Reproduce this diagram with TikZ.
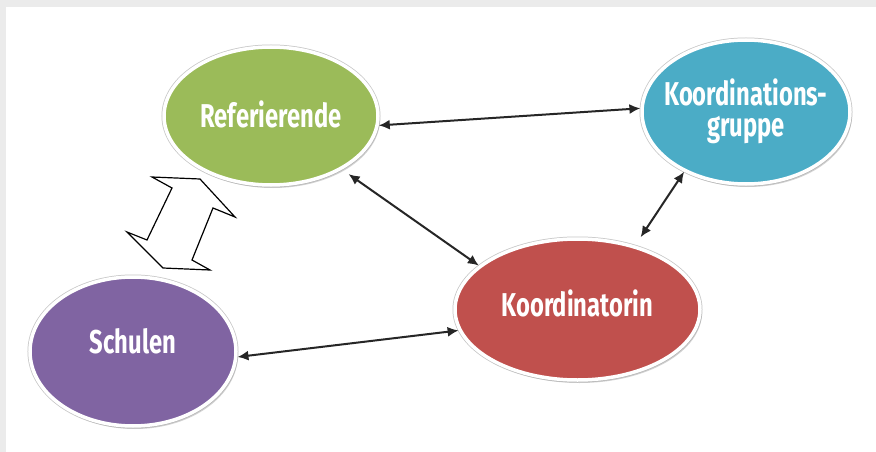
\documentclass[tikz,border=0pt]{standalone}
\usepackage{fontspec}
\newfontfamily\cond{Fira Sans}[FakeStretch=0.72]
\usetikzlibrary{shapes.geometric,arrows.meta,shadows}
\definecolor{bggray}{HTML}{EBEBEB}
\definecolor{cgreen}{HTML}{9BBB59}
\definecolor{cblue}{HTML}{4BACC6}
\definecolor{cpurple}{HTML}{8064A2}
\definecolor{cred}{HTML}{C0504D}
\tikzset{
  bubble/.style={ellipse, draw=white, line width=3.5pt, inner sep=0pt,
    preaction={draw=gray!45, line width=5pt},
    drop shadow={shadow xshift=2pt, shadow yshift=-3pt, fill=gray!70, opacity=0.5}},
  lbl/.style={text=white, font=\cond\bfseries\fontsize{33}{31}\selectfont, align=center, inner sep=0pt},
  conn/.style={line width=2pt, draw=black!85, {Latex[length=11pt,width=10pt]}-{Latex[length=11pt,width=10pt]}},
  twoway/.style={fill=white, draw=black, line width=1.2pt, line join=miter}
}
\begin{document}
\begin{tikzpicture}[x=1pt,y=-1pt]
\useasboundingbox (0,0) rectangle (876,452);
\fill[bggray] (0,0) rectangle (876,452);
\fill[white] (6,7) rectangle (876,452);
% hollow double arrow
\draw[twoway] (152,177) -- (200,179) -- (235,217) -- (213,208) -- (192,260) -- (210,270)
  -- (163,268) -- (127,232) -- (147,240) -- (172,188) -- cycle;
% bubbles
\node[bubble, fill=cgreen, minimum width=214pt, minimum height=138pt,
  label={[lbl, yshift=2pt]center:Referierende}] (ref) at (271,116) {};
\node[bubble, fill=cblue, minimum width=208pt, minimum height=144pt,
  label={[lbl, yshift=1pt]center:Koordinations-\\gruppe}] (kg) at (746,112) {};
\node[bubble, fill=cpurple, minimum width=206pt, minimum height=149pt,
  label={[lbl, yshift=10pt]center:Schulen}] (schulen) at (133,351.5) {};
\node[bubble, fill=cred, minimum width=245pt, minimum height=141pt,
  label={[lbl, yshift=6pt]center:Koordinatorin}] (koord) at (577.5,309.5) {};
% connectors
\draw[conn] (ref.-5) -- (kg.178);
\draw[conn, shorten <=8pt] (ref.-37) -- (koord.156);
\draw[conn, shorten >=10pt] (kg.224) -- (koord.48);
\draw[conn] (schulen.-3) -- (koord.190);
\end{tikzpicture}
\end{document}
